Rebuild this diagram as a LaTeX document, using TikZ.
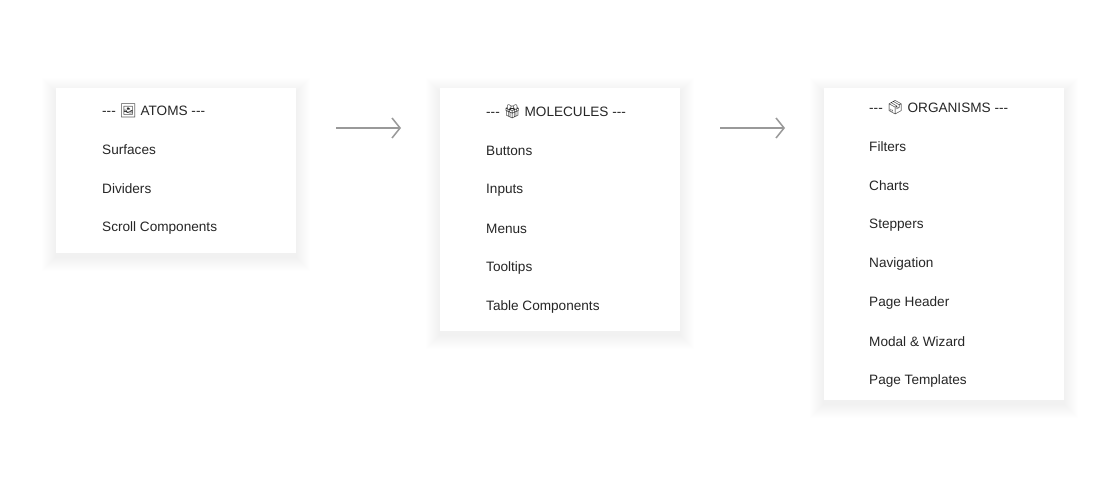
\documentclass[tikz,border=0pt]{standalone}
\usepackage{fontspec}
\setmainfont{Liberation Sans}
\newfontfamily\emo{Noto Emoji}
\usetikzlibrary{arrows.meta}
\tikzset{
 card/.style={fill=white,draw=none},
 item/.style={anchor=west,inner sep=0pt,font=\fontsize{13.6}{15}\selectfont,text=black!85},
 flow/.style={draw=black!40,line width=1.5pt,-{Straight Barb[length=8pt,width=20pt,line width=1.5pt]}}
}
\newcommand\softcard[4]{%
 \foreach \r in {1,...,14}{\fill[black,opacity=0.005] (#1-\r,#2-\r+4) rectangle (#3+\r,#4+\r+4);}
 \path[card] (#1,#2) rectangle (#3,#4);}
\begin{document}
\begin{tikzpicture}[x=1pt,y=-1pt]
\useasboundingbox[fill=white] (0,0) rectangle (1120,480);
\softcard{56}{88}{296}{253}
\softcard{440}{88}{680}{331}
\softcard{824}{88}{1064}{400}
\node[item] (a0) at (102,111) {-{}-{}- {\emo 🖼} ATOMS -{}-{}-};
\node[item] (a1) at (102,150) {Surfaces};
\node[item] (a2) at (102,189) {Dividers};
\node[item] (a3) at (102,228) {Scroll Components};
\node[item] (m0) at (486,112) {-{}-{}- {\emo 🎁} MOLECULES -{}-{}-};
\node[item] (m1) at (486,151) {Buttons};
\node[item] (m2) at (486,190) {Inputs};
\node[item] (m3) at (486,229) {Menus};
\node[item] (m4) at (486,268) {Tooltips};
\node[item] (m5) at (486,307) {Table Components};
\node[item] (o0) at (869,108) {-{}-{}- {\emo 📦} ORGANISMS -{}-{}-};
\node[item] (o1) at (869,147) {Filters};
\node[item] (o2) at (869,186) {Charts};
\node[item] (o3) at (869,225) {Steppers};
\node[item] (o4) at (869,264) {Navigation};
\node[item] (o5) at (869,303) {Page Header};
\node[item] (o6) at (869,342) {Modal \& Wizard};
\node[item] (o7) at (869,381) {Page Templates};
\coordinate (s1) at (336,128); \coordinate (e1) at (401,128);
\coordinate (s2) at (720,128); \coordinate (e2) at (785,128);
\draw[flow] (s1) -- (e1);
\draw[flow] (s2) -- (e2);
\end{tikzpicture}
\end{document}
